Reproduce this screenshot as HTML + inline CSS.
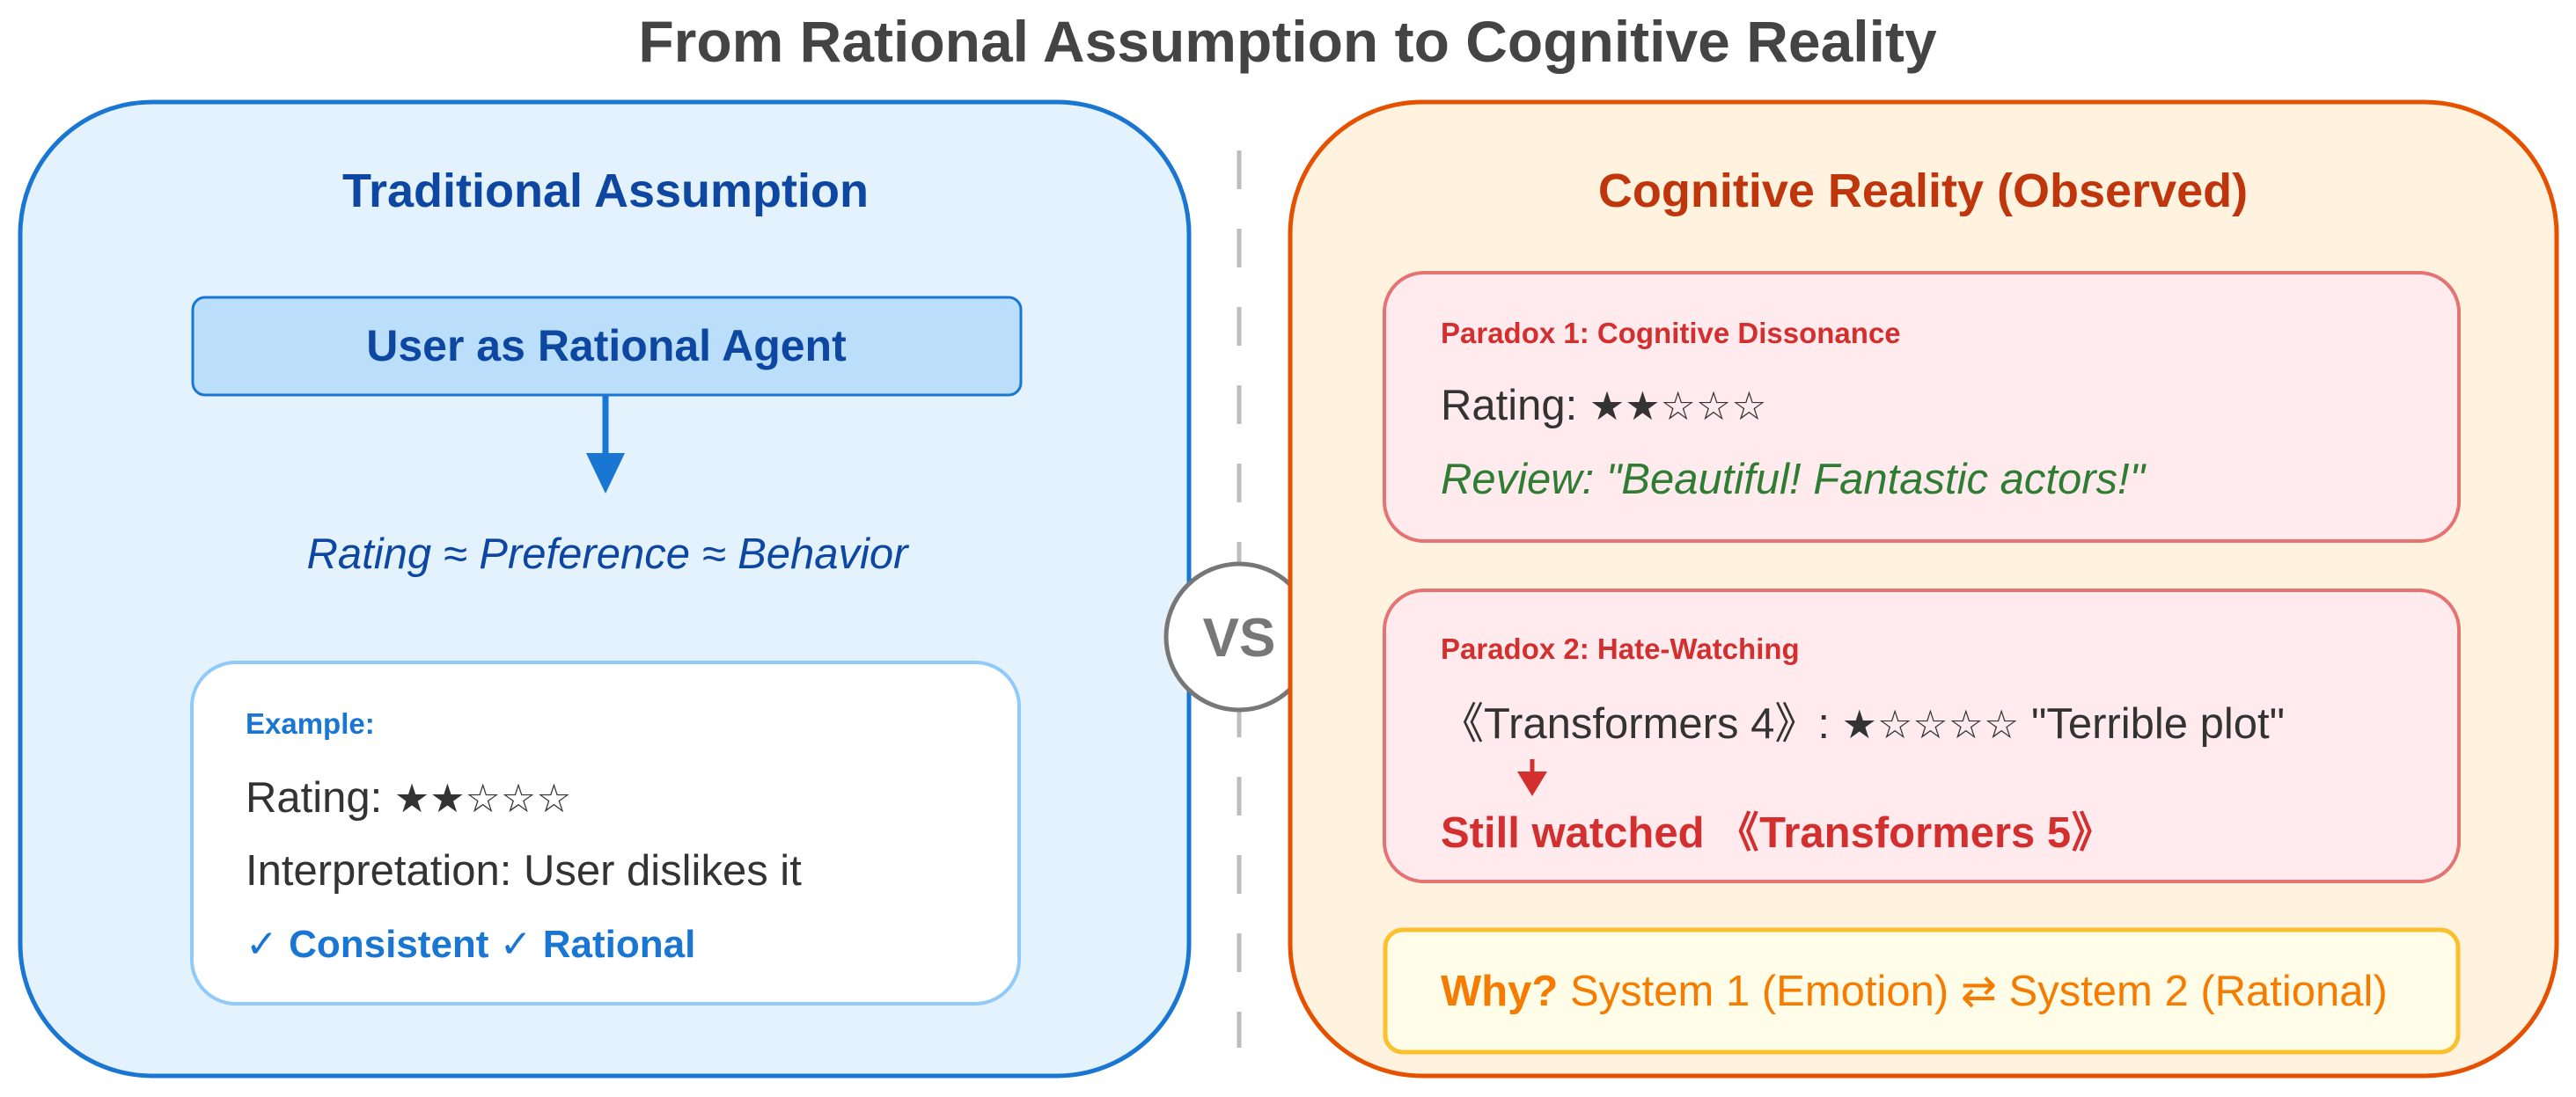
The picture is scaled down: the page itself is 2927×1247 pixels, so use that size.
<!DOCTYPE html>
<html><head><meta charset="utf-8"><style>
html,body{margin:0;padding:0;background:#fff;}
svg{display:block;}
text{font-family:"Liberation Sans","DejaVu Sans","Noto Sans CJK SC",sans-serif;}
</style></head><body>
<svg width="2927" height="1247" viewBox="0 0 2927 1247" xmlns="http://www.w3.org/2000/svg">
<text x="1463" y="70" font-size="66" font-weight="bold" fill="#444" text-anchor="middle">From Rational Assumption to Cognitive Reality</text>

<!-- left panel -->
<rect x="23" y="116" width="1328" height="1107" rx="150" ry="150" fill="#e3f2fd" stroke="#1976d2" stroke-width="5"/>
<text x="688" y="235" font-size="54" font-weight="bold" fill="#0d47a1" text-anchor="middle">Traditional Assumption</text>
<rect x="219" y="338" width="941" height="111" rx="14" fill="#bbdefb" stroke="#1976d2" stroke-width="3"/>
<text x="689" y="410" font-size="50" font-weight="bold" fill="#0d47a1" text-anchor="middle">User as Rational Agent</text>
<line x1="688" y1="449" x2="688" y2="525" stroke="#1976d2" stroke-width="7"/>
<polygon points="666,515 710,515 688,561" fill="#1976d2"/>
<text x="690" y="646" font-size="49" font-style="italic" fill="#0d47a1" text-anchor="middle">Rating ≈ Preference ≈ Behavior</text>
<rect x="218" y="753" width="940" height="388" rx="50" fill="#fff" stroke="#90caf9" stroke-width="4"/>
<text x="279" y="834" font-size="33" font-weight="bold" fill="#1976d2">Example:</text>
<text x="279" y="923" font-size="49" fill="#333"><tspan>Rating: </tspan><tspan font-size="45">★★☆☆☆</tspan></text>
<text x="279" y="1006" font-size="49" fill="#333">Interpretation: User dislikes it</text>
<text x="279" y="1088" font-size="44" font-weight="bold" fill="#1976d2">✓ Consistent ✓ Rational</text>

<!-- divider -->
<line x1="1408" y1="171" x2="1408" y2="1191" stroke="#bdbdbd" stroke-width="5" stroke-dasharray="44 45"/>
<circle cx="1408" cy="724" r="83" fill="#fff" stroke="#777" stroke-width="5"/>
<text x="1408" y="746" font-size="62" font-weight="bold" fill="#777" text-anchor="middle">VS</text>

<!-- right panel -->
<rect x="1466" y="116" width="1439" height="1107" rx="150" ry="150" fill="#fff3e0" stroke="#e65100" stroke-width="5"/>
<text x="2185" y="235" font-size="54" font-weight="bold" fill="#bf360c" text-anchor="middle">Cognitive Reality (Observed)</text>

<rect x="1573" y="310" width="1221" height="305" rx="45" fill="#ffebee" stroke="#e57373" stroke-width="4"/>
<text x="1637" y="390" font-size="33" font-weight="bold" fill="#d32f2f">Paradox 1: Cognitive Dissonance</text>
<text x="1637" y="477" font-size="49" fill="#333"><tspan>Rating: </tspan><tspan font-size="45">★★☆☆☆</tspan></text>
<text x="1637" y="561" font-size="49" font-style="italic" fill="#2e7d32">Review: "Beautiful! Fantastic actors!"</text>

<rect x="1573" y="671" width="1221" height="331" rx="45" fill="#ffebee" stroke="#e57373" stroke-width="4"/>
<text x="1637" y="749" font-size="33" font-weight="bold" fill="#d32f2f">Paradox 2: Hate-Watching</text>
<text x="1637" y="839" font-size="49" fill="#333">《Transformers 4》: <tspan font-size="45">★☆☆☆☆</tspan> "Terrible plot"</text>
<line x1="1741" y1="863" x2="1741" y2="885" stroke="#d32f2f" stroke-width="5"/>
<polygon points="1724,877 1758,877 1741,905" fill="#d32f2f"/>
<text x="1637" y="963" font-size="49" font-weight="bold" fill="#d32f2f">Still watched 《Transformers 5》</text>

<rect x="1574" y="1057" width="1219" height="139" rx="20" fill="#fffde7" stroke="#fbc02d" stroke-width="5"/>
<text x="1637" y="1143" font-size="49" fill="#f57c00"><tspan font-weight="bold">Why?</tspan> System 1 (Emotion) ⇄ System 2 (Rational)</text>
</svg>
</body></html>
